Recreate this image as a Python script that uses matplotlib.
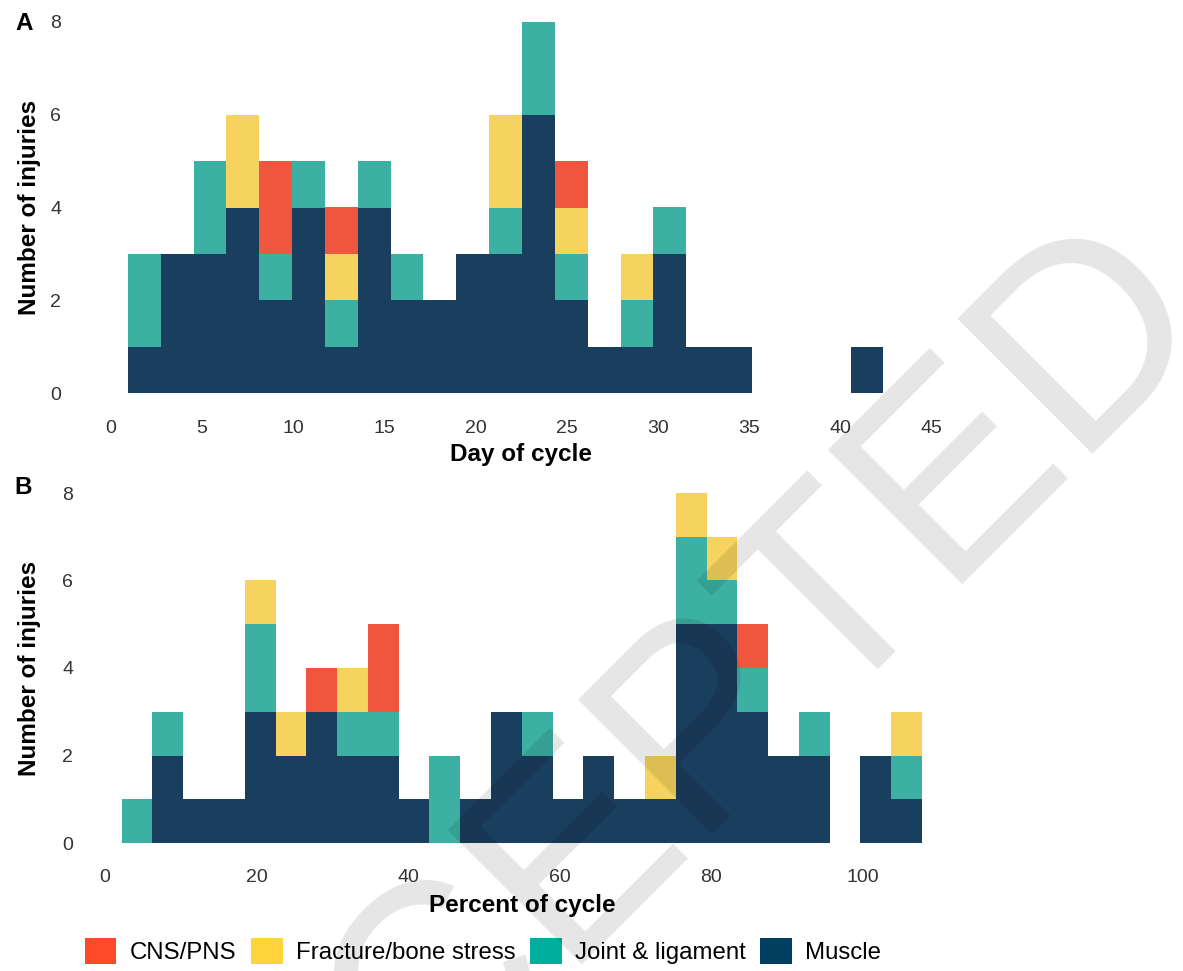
import numpy as np
import matplotlib
matplotlib.use("Agg")
import matplotlib.pyplot as plt
from matplotlib.patches import Patch

plt.rcParams['font.family'] = ['Liberation Sans', 'DejaVu Sans']

# injury categories, stacked bottom to top
categories = ["Muscle", "Joint & ligament", "Fracture/bone stress", "CNS/PNS"]
bar_colors = ["#1a3e5e", "#3cb0a3", "#f6d35e", "#ef563d"]
legend_order = ["CNS/PNS", "Fracture/bone stress", "Joint & ligament", "Muscle"]
legend_colors = ["#ff4a2a", "#ffd43a", "#00ae9e", "#003f60"]

# panel A: day of cycle, 23 bins
day_start = 0.94
day_width = 1.8
muscle_a = [1, 3, 3, 4, 2, 4, 1, 4, 2, 2, 3, 3, 6, 2, 1, 1, 3, 1, 1, 0, 0, 0, 1]
joint_a = [2, 0, 2, 0, 1, 1, 1, 1, 1, 0, 0, 1, 2, 1, 0, 1, 1, 0, 0, 0, 0, 0, 0]
fract_a = [0, 0, 0, 2, 0, 0, 1, 0, 0, 0, 0, 2, 0, 1, 0, 1, 0, 0, 0, 0, 0, 0, 0]
cns_a = [0, 0, 0, 0, 2, 0, 1, 0, 0, 0, 0, 0, 0, 1, 0, 0, 0, 0, 0, 0, 0, 0, 0]

# panel B: percent of cycle, 26 bins
pct_start = 2.19
pct_width = 4.063
muscle_b = [0, 2, 1, 1, 3, 2, 3, 2, 2, 1, 0, 1, 3, 2, 1, 2, 1, 1, 5, 5, 3, 2, 2, 0, 2, 1]
joint_b = [1, 1, 0, 0, 2, 0, 0, 1, 1, 0, 2, 0, 0, 1, 0, 0, 0, 0, 2, 1, 1, 0, 1, 0, 0, 1]
fract_b = [0, 0, 0, 0, 1, 1, 0, 1, 0, 0, 0, 0, 0, 0, 0, 0, 0, 1, 1, 1, 0, 0, 0, 0, 0, 1]
cns_b = [0, 0, 0, 0, 0, 0, 1, 0, 2, 0, 0, 0, 0, 0, 0, 0, 0, 0, 0, 0, 1, 0, 0, 0, 0, 0]

day_ticks = [0, 5, 10, 15, 20, 25, 30, 35, 40, 45]
pct_ticks = [0, 20, 40, 60, 80, 100]
y_ticks = [0, 2, 4, 6, 8]

W, H = 1183, 971
fig = plt.figure(figsize=(W / 100, H / 100), dpi=100)


def px_axes(left, top, right, bottom):
    return fig.add_axes([left / W, 1 - bottom / H, (right - left) / W, (bottom - top) / H])


def stacked(ax, start, width, series):
    n = len(series[0])
    lefts = start + width * np.arange(n)
    bottom = np.zeros(n)
    for vals, col in zip(series, bar_colors):
        vals = np.array(vals, dtype=float)
        ax.bar(lefts, vals, width=width, bottom=bottom, align='edge',
               color=col, edgecolor='none', linewidth=0)
        bottom += vals


def style(ax, xticks, xlim):
    ax.set_xlim(*xlim)
    ax.set_ylim(-0.4, 8.4)
    ax.set_xticks(xticks)
    ax.set_yticks(y_ticks)
    for s in ax.spines.values():
        s.set_visible(False)
    ax.tick_params(length=0, labelsize=14, colors='#333333', pad=6)


axA = px_axes(69.6, 3.4, 973, 411.6)
stacked(axA, day_start, day_width, [muscle_a, joint_a, fract_a, cns_a])
style(axA, day_ticks, (-2.25, 47.25))

axB = px_axes(81.6, 475.5, 962.7, 860.5)
stacked(axB, pct_start, pct_width, [muscle_b, joint_b, fract_b, cns_b])
style(axB, pct_ticks, (-3.1, 113.2))

# axis titles and panel letters
bold = dict(fontsize=17.5, fontweight='bold', color='black', ha='center', va='center')
fig.text(521 / W, 1 - 455 / H, "Day of cycle", **bold)
fig.text(522 / W, 1 - 905 / H, "Percent of cycle", **bold)
fig.text(30 / W, 1 - 207 / H, "Number of injuries", rotation=90, **bold)
fig.text(30 / W, 1 - 668 / H, "Number of injuries", rotation=90, **bold)
fig.text(24 / W, 1 - 23.5 / H, "A", **bold)
fig.text(23 / W, 1 - 487 / H, "B", **bold)

handles = [Patch(facecolor=c, edgecolor='none') for c in legend_colors]
fig.legend(handles, legend_order, loc='center', bbox_to_anchor=(483 / W, 1 - 951 / H),
           ncol=4, frameon=False, fontsize=17.3, handlelength=1.33, handleheight=1.33,
           handletextpad=0.55, columnspacing=0.6, borderpad=0, borderaxespad=0)

# watermark
fig.text(1218.4 / W, 1 - 327.6 / H, "ACCEPTED", fontsize=199, color='black', alpha=0.1,
         rotation=45, rotation_mode='anchor', ha='right', va='baseline', zorder=10)

fig.savefig("out.png", dpi=100)
